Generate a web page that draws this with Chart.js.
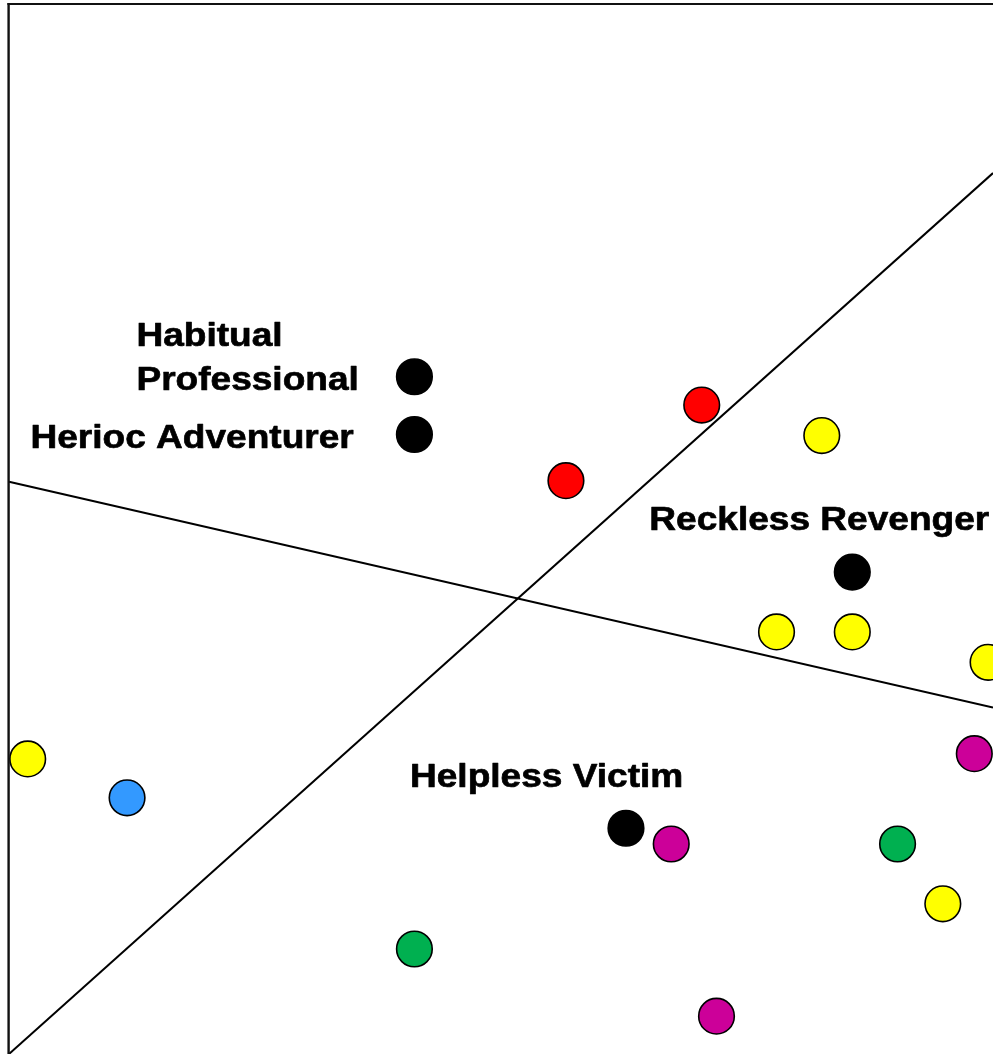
<!DOCTYPE html>
<html><head><meta charset="utf-8">
<style>html,body{margin:0;padding:0;background:#fff;overflow:hidden}#wrap{position:relative;width:993px;height:1054px}</style>
<script src="https://cdn.jsdelivr.net/npm/chart.js@4/dist/chart.umd.min.js"></script>
</head><body><div id="wrap"><canvas id="c" width="993" height="1054"></canvas></div>
<script>
// Data (conceptual map, 0-10 scale on both axes)
const redX = [7.04, 5.66];
const redY = [6.18, 5.46];
const yellowX = [8.26, 7.80, 8.57, 9.95, 9.49, 0.19];
const yellowY = [5.89, 4.02, 4.02, 3.73, 1.43, 2.81];
const magentaX = [9.81, 6.73, 7.19];
const magentaY = [2.86, 2.00, 0.36];
const greenX = [9.03, 4.12];
const greenY = [2.00, 1.00];
const blueX = [1.20];
const blueY = [2.44];
const typeNames = ["Habitual Professional", "Herioc Adventurer", "Reckless Revenger", "Helpless Victim"];
const typeX = [4.12, 4.12, 8.57, 6.27];
const typeY = [6.45, 5.90, 4.59, 2.15];
const line1X = [0, 10];
const line1Y = [0, 8.39];
const line2X = [0, 10];
const line2Y = [5.45, 3.30];

const pts = (xs, ys) => xs.map((x, i) => ({x, y: ys[i]}));

// label text lines and pixel offsets from their point
const labelLayout = [
  {idx: 0, lines: [["Habitual", -278, -31], ["Professional", -278, 13]]},
  {idx: 1, lines: [["Herioc Adventurer", -384, 13]]},
  {idx: 2, lines: [["Reckless Revenger", -203, -42]]},
  {idx: 3, lines: [["Helpless Victim", -216, -41]]}
];

const framePlugin = {
  id: 'frame',
  afterDatasetsDraw(chart) {
    const {ctx, chartArea} = chart;
    ctx.save();
    ctx.strokeStyle = '#111';
    ctx.lineWidth = 2.4;
    ctx.beginPath();
    ctx.moveTo(chartArea.left - 0.4, chartArea.top - 1);
    ctx.lineTo(chartArea.left - 0.4, chart.height);
    ctx.stroke();
    ctx.lineWidth = 2;
    ctx.beginPath();
    ctx.moveTo(chartArea.left - 1.6, chartArea.top);
    ctx.lineTo(chart.width, chartArea.top);
    ctx.stroke();
    // labels
    const xs = chart.scales.x, ys = chart.scales.y;
    ctx.fillStyle = '#000';
    ctx.strokeStyle = '#000';
    ctx.lineWidth = 0.7;
    ctx.lineJoin = 'round';
    ctx.font = 'bold 34px "Liberation Sans", Arial, sans-serif';
    ctx.textBaseline = 'alphabetic';
    ctx.textAlign = 'left';
    labelLayout.forEach(l => {
      const px = xs.getPixelForValue(typeX[l.idx]);
      const py = ys.getPixelForValue(typeY[l.idx]);
      l.lines.forEach(([t, dx, dy]) => {
        ctx.save();
        ctx.translate(px + dx, py + dy);
        ctx.scale(1.09, 1);
        ctx.fillText(t, 0, 0);
        ctx.strokeText(t, 0, 0);
        ctx.restore();
      });
    });
    ctx.restore();
  }
};

const dot = (label, xs, ys, color, border) => ({
  type: 'scatter', label, data: pts(xs, ys),
  backgroundColor: color, borderColor: border, borderWidth: 1.6,
  pointRadius: 17.8, pointHoverRadius: 17.8, order: 1, clip: false
});

new Chart(document.getElementById('c'), {
  type: 'scatter',
  data: {
    datasets: [
      dot('Types', typeX, typeY, '#000', '#000'),
      dot('Red', redX, redY, '#FF0000', '#000'),
      dot('Yellow', yellowX, yellowY, '#FFFF00', '#000'),
      dot('Magenta', magentaX, magentaY, '#CC0099', '#000'),
      dot('Green', greenX, greenY, '#00B050', '#000'),
      dot('Blue', blueX, blueY, '#3399FF', '#000'),
      {type: 'line', label: 'Axis 1', data: pts(line1X, line1Y), borderColor: '#000', borderWidth: 2, pointRadius: 0, fill: false, order: 10, clip: false},
      {type: 'line', label: 'Axis 2', data: pts(line2X, line2Y), borderColor: '#000', borderWidth: 2, pointRadius: 0, fill: false, order: 10, clip: false}
    ]
  },
  options: {
    responsive: false,
    animation: false,
    devicePixelRatio: 1,
    layout: {autoPadding: false, padding: {left: 9, top: 4, right: 0, bottom: 0}},
    plugins: {legend: {display: false}, tooltip: {enabled: false}},
    scales: {
      x: {type: 'linear', min: 0, max: 10, display: false},
      y: {type: 'linear', min: 0, max: 10, display: false}
    }
  },
  plugins: [framePlugin]
});
</script>
</body></html>
